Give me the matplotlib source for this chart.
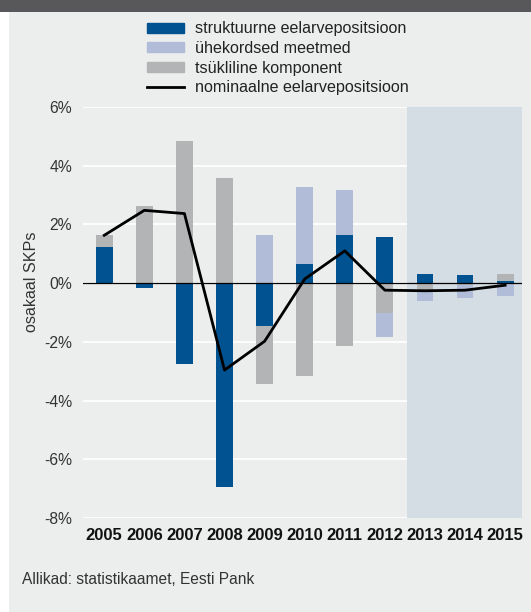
import matplotlib
matplotlib.use("Agg")
import matplotlib.pyplot as plt
import matplotlib.patches as mpatches
from matplotlib.lines import Line2D
import numpy as np

plt.rcParams['font.family'] = ['Liberation Sans', 'DejaVu Sans']

years = ['2005', '2006', '2007', '2008', '2009', '2010', '2011', '2012', '2013', '2014', '2015']
structural = [1.24, -0.18, -2.76, -6.96, -1.45, 0.65, 1.64, 1.58, 0.31, 0.28, 0.08]
cyclical = [0.40, 2.62, 4.85, 3.57, -2.00, -3.17, -2.13, -1.03, -0.22, -0.05, 0.24]
one_off = [0.0, 0.0, 0.0, 0.0, 1.65, 2.63, 1.53, -0.80, -0.38, -0.45, -0.43]
nominal = [1.63, 2.48, 2.37, -2.96, -1.98, 0.14, 1.10, -0.24, -0.26, -0.24, -0.07]
yticks = [6, 4, 2, 0, -2, -4, -6, -8]

labels = ['struktuurne eelarvepositsioon', 'ühekordsed meetmed',
          'tsükliline komponent', 'nominaalne eelarvepositsioon']
c_blue = '#005291'
c_light = '#b1bcd9'
c_gray = '#b3b4b6'
bg = '#eceeed'

fig = plt.figure(figsize=(5.31, 6.12), dpi=100)
fig.patch.set_facecolor('white')
fig.patches.append(mpatches.Rectangle((9/531, 0), 1 - 9/531, 1 - 12/612,
                                      transform=fig.transFigure, facecolor=bg,
                                      edgecolor='none', zorder=-10))
fig.patches.append(mpatches.Rectangle((0, 1 - 12/612), 1, 12/612,
                                      transform=fig.transFigure, facecolor='#58585a',
                                      edgecolor='none', zorder=-10))

ax = fig.add_axes([83/531, 1 - 518/612, (522 - 83)/531, (518 - 107)/612])
ax.set_facecolor(bg)
x = np.arange(len(years))
w = 0.42

pos_base = np.zeros(len(years))
neg_base = np.zeros(len(years))
for vals, col in [(structural, c_blue), (cyclical, c_gray), (one_off, c_light)]:
    v = np.array(vals)
    bottoms = np.where(v >= 0, pos_base, neg_base)
    ax.bar(x, v, w, bottom=bottoms, color=col, edgecolor='none', zorder=3)
    pos_base = pos_base + np.where(v >= 0, v, 0)
    neg_base = neg_base + np.where(v < 0, v, 0)

ax.plot(x, nominal, color='black', lw=2.0, zorder=5)
ax.axhline(0, color='black', lw=0.9, zorder=4)
ax.axvspan(7.55, 10.6, color='#d4dce4', zorder=1, lw=0)

ax.set_xlim(-0.53, 10.42)
ax.set_ylim(-8, 6)
ax.set_yticks(yticks)
ax.set_yticklabels([f'{t}%' for t in yticks], fontsize=11.3, color='#333333')
ax.yaxis.grid(True, color='white', lw=1.2, zorder=0)
ax.set_axisbelow(True)
ax.tick_params(axis='y', length=0, pad=8)
ax.set_xticks(x)
ax.set_xticklabels(years, fontsize=12, fontweight='bold', color='#111111')
ax.tick_params(axis='x', length=0, pad=7)
for s in ax.spines.values():
    s.set_visible(False)
ax.set_ylabel('osakaal SKPs', fontsize=11.6, color='#333333')
ax.yaxis.set_label_coords(-0.10, 0.574)

handles = [mpatches.Patch(color=c_blue), mpatches.Patch(color=c_light),
           mpatches.Patch(color=c_gray), Line2D([0], [0], color='black', lw=2)]
fig.legend(handles, labels, loc='upper left', bbox_to_anchor=(132/531, 1 - 7/612),
           frameon=False, fontsize=11.6, handlelength=2.3, handleheight=0.55,
           labelspacing=0.28, handletextpad=0.72, labelcolor='#222222')

fig.text(22/531, 1 - 580/612, 'Allikad: statistikaamet, Eesti Pank',
         fontsize=11.2, color='#333333', va='center')

fig.savefig('out.png', dpi=100, facecolor=fig.get_facecolor())
